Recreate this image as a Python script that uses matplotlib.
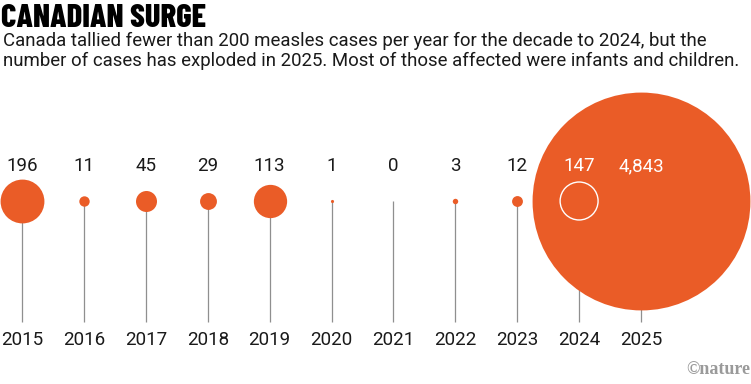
import matplotlib.pyplot as plt
import numpy as np

# ==================== data ====================
years = [2015, 2016, 2017, 2018, 2019, 2020, 2021, 2022, 2023, 2024, 2025]
cases = [196, 11, 45, 29, 113, 1, 0, 3, 12, 147, 4843]
labels = ['196', '11', '45', '29', '113', '1', '0', '3', '12', '147', '4,843']

TITLE = 'CANADIAN SURGE'
SUBTITLE_1 = 'Canada tallied fewer than 200 measles cases per year for the decade to 2024, but the'
SUBTITLE_2 = 'number of cases has exploded in 2025. Most of those affected were infants and children.'

ORANGE = '#ea5c27'
LINE_GREY = '#8f8f8f'
SANS = ['Roboto', 'DejaVu Sans']
# ==============================================

W, H = 751, 384
fig = plt.figure(figsize=(W / 100, H / 100), dpi=100)
ax = fig.add_axes([0, 0, 1, 1])

# x axis: year -> pixel, 2015 at 22px, ~61.9px per year
px_per_year = 61.9
ax.set_xlim(2015 - 22 / px_per_year, 2015 + (W - 22) / px_per_year)
ax.set_ylim(H, 0)  # y in pixel rows from top
ax.axis('off')

CY = 201       # circle centre row
LINE_BOT = 322
LABEL_Y = 166
YEAR_Y = 340

# stems
for yr in years:
    ax.plot([yr, yr], [CY, LINE_BOT], color=LINE_GREY, lw=0.9, zorder=1,
            solid_capstyle='butt')

# circle area proportional to cases (s in points^2)
k = 5.08
sizes = [k * c for c in cases]
for yr, c, s in zip(years, cases, sizes):
    if c == 0:
        continue
    if yr == 2024:
        ax.scatter([yr], [CY], s=s, facecolor='none', edgecolor='white',
                   linewidth=1.0, zorder=3)
    else:
        ax.scatter([yr], [CY], s=s, color=ORANGE, linewidth=0, zorder=2)

# value labels and year labels
for yr, lab in zip(years, labels):
    col = 'white' if yr >= 2024 else '#1a1a1a'
    ax.text(yr, LABEL_Y, lab, ha='center', va='center', fontsize=13.5,
            color=col, family=SANS, zorder=4)
    ax.text(yr, YEAR_Y, str(yr), ha='center', va='center', fontsize=13.5,
            color='#1a1a1a', family=SANS, zorder=4)

# title block
fig.text(1 / W, 1 - 27 / H, TITLE, ha='left', va='baseline', fontsize=23.5,
         fontweight=800, family=['Barlow Condensed', 'DejaVu Sans'],
         color='black')
fig.text(3 / W, 1 - 46 / H, SUBTITLE_1, ha='left', va='baseline', fontsize=13.4,
         family=SANS, color='#1a1a1a')
fig.text(3 / W, 1 - 66 / H, SUBTITLE_2, ha='left', va='baseline', fontsize=13.4,
         family=SANS, color='#1a1a1a')

fig.text(750 / W, 1 - 374 / H, '©nature', ha='right', va='baseline', fontsize=13,
         fontweight='bold', family=['Liberation Serif', 'DejaVu Serif'], color='#9a9a9a')

plt.savefig('out.png', dpi=100)
